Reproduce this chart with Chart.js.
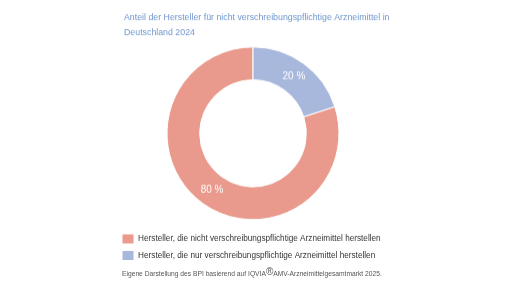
<!DOCTYPE html>
<html lang="de">
<head>
<meta charset="utf-8">
<script src="https://cdn.jsdelivr.net/npm/chart.js@4/dist/chart.umd.min.js"></script>
<style>
  body { margin: 0; background: #fff; width: 516px; height: 290px; overflow: hidden; font-family: "Liberation Sans", Arial, sans-serif; }
  #wrap { position: absolute; left: 118px; top: 0; width: 280px; height: 269.5px; }
  #source { position: absolute; left: 122px; top: 270px; font-size: 6.7px; color: #555; white-space: nowrap; }
  #source sup { font-size: 10px; vertical-align: 1px; line-height: 0; }
</style>
</head>
<body>
<div id="wrap"><canvas id="chart"></canvas></div>
<div id="source">Eigene Darstellung des BPI basierend auf IQVIA<sup>®</sup>AMV-Arzneimittelgesamtmarkt 2025.</div>
<script>
// Anteil der Hersteller (Deutschland 2024)
const titleLines = ['Anteil der Hersteller für nicht verschreibungspflichtige Arzneimittel in', 'Deutschland 2024'];
const labels = [
    'Hersteller, die nicht verschreibungspflichtige Arzneimittel herstellen',
    'Hersteller, die nur verschreibungspflichtige Arzneimittel herstellen'
];
const shares = [80, 20];
const colors = ['#EA9A8C', '#A8B8DC'];

// draws "80 %" etc. in the middle of each ring segment
const sliceLabels = {
    id: 'sliceLabels',
    afterDatasetsDraw(chart) {
        const ctx = chart.ctx;
        const meta = chart.getDatasetMeta(0);
        ctx.save();
        ctx.fillStyle = '#fff';
        ctx.font = '10px "Liberation Sans", Arial, sans-serif';
        ctx.textAlign = 'center';
        ctx.textBaseline = 'middle';
        meta.data.forEach((arc, i) => {
            const p = arc.getCenterPoint();
            ctx.fillText(shares[i] + ' %', p.x, p.y);
        });
        ctx.restore();
    }
};

// title and legend may run a bit wider than the ring area, and the legend sits flush left
const widenBoxes = {
    id: 'widenBoxes',
    afterLayout(chart) {
        chart.titleBlock.right = chart.width;
        chart.legend.left -= 8.5;
        chart.legend.right = chart.width;
    }
};

new Chart(document.getElementById('chart'), {
    type: 'doughnut',
    data: {
        labels: labels,
        datasets: [{
            data: shares,
            backgroundColor: colors,
            borderColor: '#fff',
            borderWidth: 1
        }]
    },
    options: {
        responsive: true,
        maintainAspectRatio: false,
        animation: false,
        rotation: 72,
        radius: 86,
        cutout: '62%',
        layout: { padding: { left: 6, right: 16 } },
        plugins: {
            title: {
                display: true,
                text: titleLines,
                align: 'start',
                color: '#7096CC',
                font: { family: '"Liberation Sans", Arial, sans-serif', size: 8.8, weight: 'normal', lineHeight: 1.6 },
                padding: { top: 11, bottom: 0 }
            },
            legend: {
                position: 'bottom',
                align: 'start',
                labels: {
                    boxWidth: 12,
                    boxHeight: 10,
                    padding: 6.5,
                    color: '#333',
                    font: { family: '"Liberation Sans", Arial, sans-serif', size: 8.2 }
                }
            },
            tooltip: { enabled: false }
        }
    },
    plugins: [sliceLabels, widenBoxes]
});
</script>
</body>
</html>
